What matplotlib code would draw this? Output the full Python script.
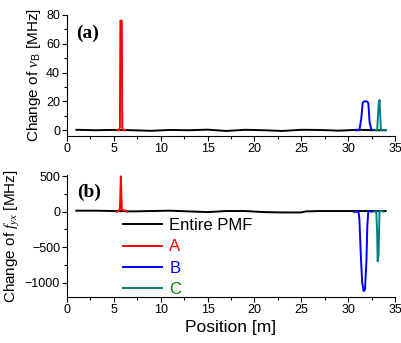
import matplotlib
matplotlib.use("Agg")
import matplotlib.pyplot as plt
from matplotlib.ticker import MultipleLocator

plt.rcParams['font.family'] = ['Liberation Sans', 'DejaVu Sans']
plt.rcParams['mathtext.fontset'] = 'custom'
plt.rcParams['mathtext.rm'] = 'Liberation Sans'
plt.rcParams['mathtext.it'] = 'Liberation Serif:italic'

# ---- panel (a): change of nu_B ----
a_pmf_x = [1, 3, 5, 7, 9, 11, 13, 15, 17, 19, 21, 23, 25, 27, 29, 31, 33, 34]
a_pmf_y = [0.3, 0.0, 0.2, 0.0, -0.4, 0.2, 0.0, 0.4, -0.5, 0.3, 0.0, -0.5, 0.3, 0.2, -0.3, 0.3, 0.0, 0.0]
a_A_x = [5.3, 5.55, 5.65, 5.7, 5.85, 5.9, 6.0, 6.2]
a_A_y = [0, 0, 2, 76, 76, 2, 0, 0]
a_B_x = [30.8, 31.2, 31.4, 31.55, 31.7, 32.0, 32.15, 32.3, 32.5]
a_B_y = [0, 0, 8, 19, 20, 20, 19, 5, 0]
a_C_x = [32.9, 33.1, 33.25, 33.35, 33.5, 33.7, 34.0]
a_C_y = [0, 0, 18, 21, 0, 0, 0]

# ---- panel (b): change of f_yx ----
b_pmf_x = [1, 3, 5, 7, 9, 11, 13, 15, 17, 19, 21, 23, 25, 25.5, 27, 29, 31, 33, 34]
b_pmf_y = [15, 15, 10, 5, 10, 15, 5, -5, 10, 10, -5, -10, -10, 5, 10, 10, 10, 10, 10]
b_A_x = [5.3, 5.5, 5.65, 5.75, 5.85, 6.0, 6.2, 6.4]
b_A_y = [0, 10, 40, 500, 30, 20, 20, 0]
b_B_x = [30.6, 30.9, 31.1, 31.2, 31.35, 31.5, 31.65, 31.8, 31.95, 32.05, 32.15, 32.3, 32.5]
b_B_y = [0, 0, 10, -100, -600, -1000, -1120, -1100, -700, -200, 10, 10, 0]
b_C_x = [32.8, 33.0, 33.1, 33.15, 33.25, 33.35, 33.5, 33.8]
b_C_y = [0, 10, -300, -700, -600, 10, 10, 0]

labels = ["Entire PMF", "A", "B", "C"]
line_colors = ["black", "#ff0000", "#0000ff", "#008080"]
text_colors = ["black", "#ff0000", "#0000ff", "#008000"]

fig = plt.figure(figsize=(4.01, 3.43), dpi=100)
ax1 = fig.add_axes([0.167, 0.6035, 0.818, 0.353])
ax2 = fig.add_axes([0.167, 0.135, 0.818, 0.355])

lw = 1.4
ax1.plot(a_pmf_x, a_pmf_y, color=line_colors[0], lw=lw)
ax1.plot(a_A_x, a_A_y, color=line_colors[1], lw=lw)
ax1.plot(a_B_x, a_B_y, color=line_colors[2], lw=lw)
ax1.plot(a_C_x, a_C_y, color=line_colors[3], lw=lw)

ax2.plot(b_pmf_x, b_pmf_y, color=line_colors[0], lw=lw, label=labels[0])
ax2.plot(b_A_x, b_A_y, color=line_colors[1], lw=lw, label=labels[1])
ax2.plot(b_B_x, b_B_y, color=line_colors[2], lw=lw, label=labels[2])
ax2.plot(b_C_x, b_C_y, color=line_colors[3], lw=lw, label=labels[3])

ax1.set_xlim(0, 35)
ax1.set_ylim(-4, 80)
ax2.set_xlim(0, 35)
ax2.set_ylim(-1200, 520)

for ax in (ax1, ax2):
    ax.spines['top'].set_visible(False)
    ax.spines['right'].set_visible(False)
    ax.xaxis.set_major_locator(MultipleLocator(5))
    ax.xaxis.set_minor_locator(MultipleLocator(2.5))
    ax.tick_params(which='major', direction='out', length=3.5, width=0.8, labelsize=9, pad=1.5)
    ax.tick_params(which='minor', direction='out', length=2, width=0.8)

ax1.yaxis.set_major_locator(MultipleLocator(20))
ax1.yaxis.set_minor_locator(MultipleLocator(10))
ax2.yaxis.set_major_locator(MultipleLocator(500))
ax2.yaxis.set_minor_locator(MultipleLocator(250))

ax1.set_ylabel(r"Change of $\nu_{\mathrm{B}}$ [MHz]", fontsize=11, labelpad=2)
ax2.set_ylabel(r"Change of $f_{yx}$ [MHz]", fontsize=11, labelpad=2)
ax2.set_xlabel("Position [m]", fontsize=12.5, labelpad=3)

ax1.text(0.027, 0.85, "(a)", transform=ax1.transAxes, fontsize=14, fontweight='bold',
         family='Liberation Serif', va='center', ha='left')
ax2.text(0.03, 0.86, "(b)", transform=ax2.transAxes, fontsize=14, fontweight='bold',
         family='Liberation Serif', va='center', ha='left')

leg = ax2.legend(loc='upper left', bbox_to_anchor=(0.172, 0.645), frameon=False,
                 fontsize=12, handlelength=2.3, handletextpad=0.45, labelspacing=0.38,
                 borderaxespad=0, borderpad=0)
for t, c in zip(leg.get_texts(), text_colors):
    t.set_color(c)

fig.savefig("out.png", dpi=100)
